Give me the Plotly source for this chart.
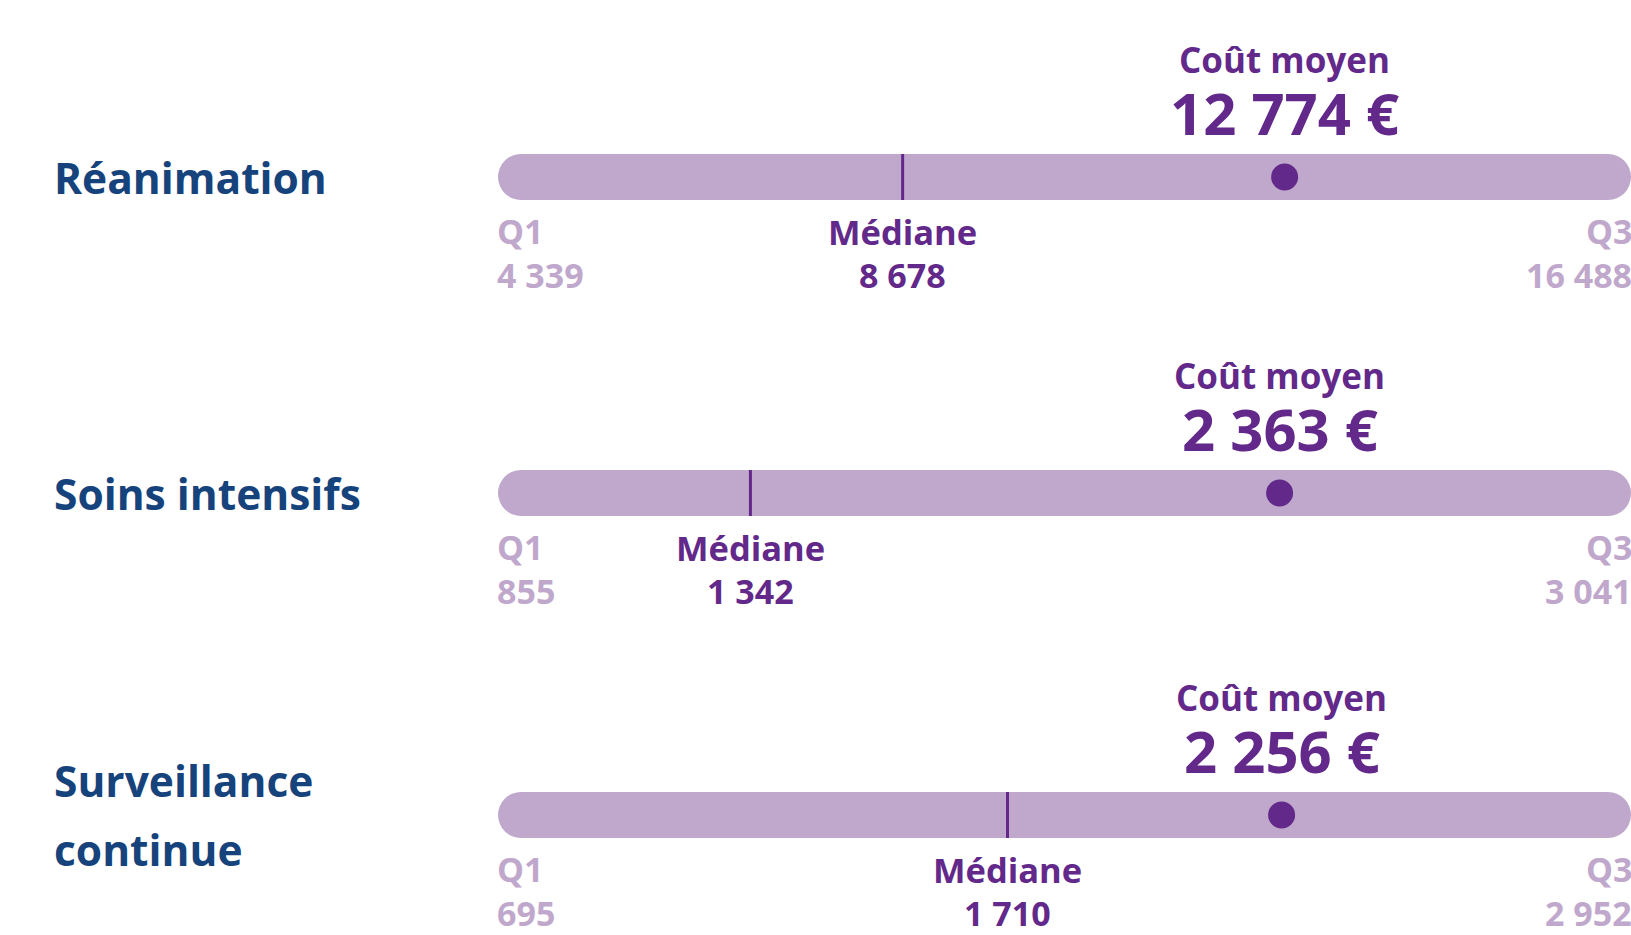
import plotly.graph_objects as go

# ---- data ----
categories = ["Réanimation", "Soins intensifs", "Surveillance continue"]
label_lines = [["Réanimation"], ["Soins intensifs"], ["Surveillance", "continue"]]
q1_values = [4339, 855, 695]
median_values = [8678, 1342, 1710]
mean_values = [12774, 2363, 2256]
q3_values = [16488, 3041, 2952]

# ---- style / layout ----
W, H = 1631, 935
BAR_LEFT_PX = 498
BAR_RIGHT_PX = 1631
ROW_Y = [177, 493, 815]          # bar centre (pixel-like y units)
BAR_H = 46
LIGHT = "#C0A8CC"
DARK = "#62288A"
BLUE = "#16437C"
FONT = "Open Sans"

def fmt(v):
    return f"{v:,}".replace(",", " ")

fig = go.Figure()
dom = [BAR_LEFT_PX / W, BAR_RIGHT_PX / W]
xaxes = ["x", "x2", "x3"]

shapes = []
annotations = []
for i, cat in enumerate(categories):
    xa = xaxes[i]
    q1, q3 = q1_values[i], q3_values[i]
    yc = ROW_Y[i]
    r_px = BAR_H / 2
    r_data = r_px * (q3 - q1) / (BAR_RIGHT_PX - BAR_LEFT_PX)
    # rounded bar: rect + 2 end circles
    shapes.append(dict(type="rect", xref=xa, yref="y", x0=q1 + r_data, x1=q3 - r_data,
                       y0=yc - r_px, y1=yc + r_px, fillcolor=LIGHT, line=dict(width=0), layer="below"))
    shapes.append(dict(type="circle", xref=xa, yref="y", x0=q1, x1=q1 + 2 * r_data,
                       y0=yc - r_px, y1=yc + r_px, fillcolor=LIGHT, line=dict(width=0), layer="below"))
    shapes.append(dict(type="circle", xref=xa, yref="y", x0=q3 - 2 * r_data, x1=q3,
                       y0=yc - r_px, y1=yc + r_px, fillcolor=LIGHT, line=dict(width=0), layer="below"))
    # median tick
    shapes.append(dict(type="line", xref=xa, yref="y", x0=median_values[i], x1=median_values[i],
                       y0=yc - r_px, y1=yc + r_px, line=dict(color=DARK, width=3)))
    # mean dot
    fig.add_trace(go.Scatter(x=[mean_values[i]], y=[yc], mode="markers",
                             marker=dict(size=27, color=DARK), xaxis=xa, yaxis="y",
                             hoverinfo="skip", showlegend=False))
    # texts
    def ann(text, x, y, size, color, xanchor="center", xshift=0, xref=xa):
        annotations.append(dict(text=f"<b>{text}</b>", x=x, y=y, xref=xref, yref="y",
                                xanchor=xanchor, yanchor="middle", showarrow=False, xshift=xshift,
                                font=dict(family=FONT, size=size, color=color)))
    ann("Coût moyen", mean_values[i], yc - 118, 35, DARK)
    ann(f"{fmt(mean_values[i])} €", mean_values[i], yc - 65, 58, DARK)
    ann("Q1", q1, yc + 54, 34, LIGHT, xanchor="left", xshift=-3)
    ann(fmt(q1), q1, yc + 98, 34, LIGHT, xanchor="left", xshift=-3)
    ann("Médiane", median_values[i], yc + 54, 34.5, DARK)
    ann(fmt(median_values[i]), median_values[i], yc + 98, 34, DARK)
    ann("Q3", q3, yc + 54, 34, LIGHT, xanchor="right", xshift=4)
    ann(fmt(q3), q3, yc + 98, 34, LIGHT, xanchor="right", xshift=3)
    # category label
    lines = label_lines[i]
    n = len(lines)
    for k, line in enumerate(lines):
        ly = yc + (k - (n - 1) / 2) * 69
        annotations.append(dict(text=f"<b>{line}</b>", x=52 / W, y=ly, xref="paper", yref="y",
                                xanchor="left", yanchor="middle", showarrow=False,
                                font=dict(family=FONT, size=42.5, color=BLUE)))

layout = dict(
    width=W, height=H,
    margin=dict(l=0, r=0, t=0, b=0),
    paper_bgcolor="white", plot_bgcolor="white",
    shapes=shapes, annotations=annotations,
    yaxis=dict(range=[H, 0], domain=[0, 1], visible=False, fixedrange=True),
    showlegend=False,
)
for i, xa in enumerate(xaxes):
    key = "xaxis" if i == 0 else f"xaxis{i + 1}"
    cfg = dict(range=[q1_values[i], q3_values[i]], domain=dom, visible=False,
               anchor="y", fixedrange=True)
    if i > 0:
        cfg["overlaying"] = "x"
    layout[key] = cfg
fig.update_layout(**layout)
fig.write_html("out.html", config={"displayModeBar": False},
               post_script="document.body.style.margin='0';document.body.style.overflow='hidden';")
